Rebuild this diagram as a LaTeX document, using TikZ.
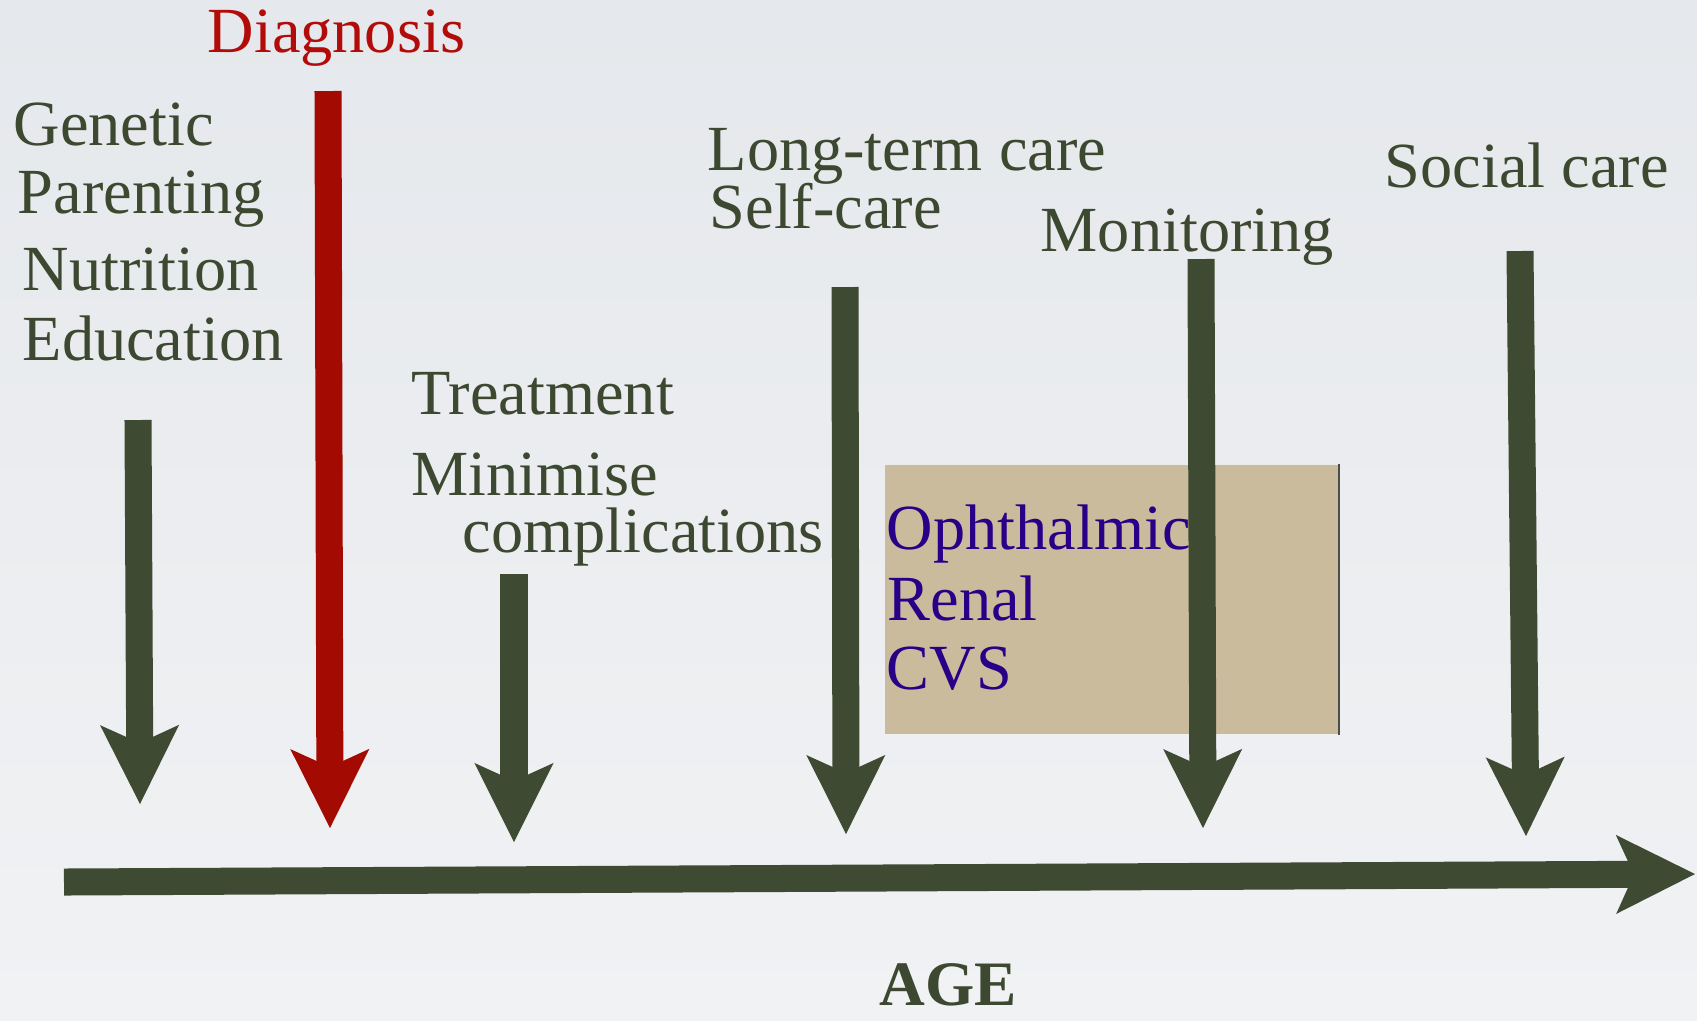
\documentclass[tikz,border=0pt]{standalone}
\usepackage{fontspec}
\setmainfont{Liberation Serif}
\usetikzlibrary{arrows.meta}

\definecolor{bgtop}{RGB}{229,232,236}
\definecolor{bgbottom}{RGB}{241,242,244}
\definecolor{txtgreen}{RGB}{60,72,48}
\definecolor{stalkgreen}{RGB}{62,74,49}
\definecolor{diagred}{RGB}{178,12,10}
\definecolor{stalkred}{RGB}{163,10,2}
\definecolor{organblue}{RGB}{40,0,135}
\definecolor{boxtan}{RGB}{203,187,157}

\begin{document}
\begin{tikzpicture}[x=0.01cm, y=-0.01cm,
    lbl/.style={anchor=base west, inner sep=0pt, text=txtgreen,
      font=\fontsize{18.3pt}{21pt}\selectfont},
    organ/.style={lbl, text=organblue},
    dart/.style={line width=0.27cm, draw=stalkgreen,
      -{Stealth[length=0.79cm, width=0.79cm, inset=0.18cm, line width=0pt]}}]
    \shade[top color=bgtop, bottom color=bgbottom] (0,0) rectangle (1697,1020);
    \useasboundingbox (0,0) rectangle (1697,1020);

    % before diagnosis
    \node[lbl] (genetic) at (13,145) {Genetic};
    \node[lbl] (parenting) at (17,213) {Parenting};
    \node[lbl] (nutrition) at (22,290) {Nutrition};
    \node[lbl] (education) at (22,360) {Education};
    \coordinate (gen-top) at (138,420);
    \coordinate (gen-tip) at (140,804);
    \draw[dart] (gen-top) -- (gen-tip);

    % diagnosis
    \node[lbl, text=diagred] (diagnosis) at (207,52) {Diagnosis};
    \coordinate (diag-top) at (328,91);
    \coordinate (diag-tip) at (330,828);
    \draw[dart, draw=stalkred] (diag-top) -- (diag-tip);

    % treatment
    \node[lbl] (treatment) at (411,414) {Treatment};
    \node[lbl] (minimise) at (411,495) {Minimise};
    \node[lbl] (complications) at (462,552) {complications};
    \coordinate (treat-top) at (514,574);
    \coordinate (treat-tip) at (514,842);
    \draw[dart] (treat-top) -- (treat-tip);

    % long-term care
    \node[lbl] (longterm) at (707,170) {Long-term care};
    \node[lbl] (selfcare) at (709,228) {Self-care};
    \coordinate (care-top) at (845,287);
    \coordinate (care-tip) at (846,834);
    \draw[dart] (care-top) -- (care-tip);

    % complications box
    \node[fill=boxtan, inner sep=0pt, minimum width=4.53cm, minimum height=2.69cm,
      anchor=north west] (organbox) at (884,464) {};
    \draw[line width=0.02cm, gray!60!black] (organbox.north east) -- (organbox.south east);
    \node[organ] (ophthalmic) at (886,549) {Ophthalmic};
    \node[organ] (renal) at (887,620) {Renal};
    \node[organ] (cvs) at (886,689) {CVS};

    % monitoring
    \node[lbl] (monitoring) at (1040,251) {Monitoring};
    \coordinate (mon-top) at (1201,259);
    \coordinate (mon-tip) at (1203,828);
    \draw[dart] (mon-top) -- (mon-tip);

    % social care
    \node[lbl] (social) at (1384,187) {Social care};
    \coordinate (soc-top) at (1520,251);
    \coordinate (soc-tip) at (1526,836);
    \draw[dart] (soc-top) -- (soc-tip);

    % age axis
    \coordinate (age-start) at (64,882);
    \coordinate (age-end) at (1695,874);
    \draw[dart] (age-start) -- (age-end);
    \node[lbl, font=\fontsize{18pt}{21pt}\selectfont\bfseries] (age) at (879,1005) {AGE};
\end{tikzpicture}
\end{document}
